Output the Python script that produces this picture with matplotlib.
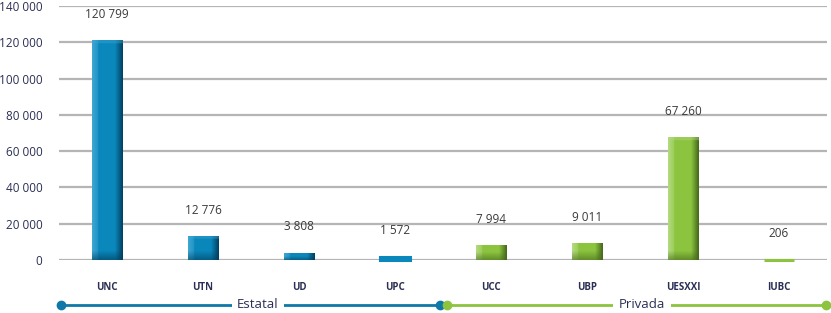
import numpy as np
import matplotlib
matplotlib.use("Agg")
import matplotlib.pyplot as plt
from matplotlib.colors import to_rgb

categories = ["UNC", "UTN", "UD", "UPC", "UCC", "UBP", "UESXXI", "IUBC"]
values = [120799, 12776, 3808, 1572, 7994, 9011, 67260, 206]
labels = ["120 799", "12 776", "3 808", "1 572", "7 994", "9 011", "67 260", "206"]
groups = ["Estatal", "Estatal", "Estatal", "Estatal", "Privada", "Privada", "Privada", "Privada"]
yticks = [0, 20000, 40000, 60000, 80000, 100000, 120000, 140000]
ytick_labels = ["0", "20 000", "40 000", "60 000", "80 000", "100 000", "120 000", "140 000"]

plt.rcParams['font.family'] = ['Open Sans', 'DejaVu Sans']

W, H = 831, 313
fig = plt.figure(figsize=(W/100, H/100), dpi=100)
ax = fig.add_axes([59/W, 53/H, 768/W, 254/H])
ax.set_xlim(-0.5, 7.5)
ax.set_ylim(0, 140000)

pal = {
    "Estatal": dict(light="#3ea6d3", main="#0a87bb", dark="#02405f"),
    "Privada": dict(light="#b4da80", main="#8cc43f", dark="#46681c"),
}

for y in yticks:
    ax.axhline(y, color="#b5b5b5", lw=1.6, zorder=0)

bw = 0.32
px_per_unit = 254/140000
for i, (v, g) in enumerate(zip(values, groups)):
    c = pal[g]
    light, main, dark = np.array(to_rgb(c["light"])), np.array(to_rgb(c["main"])), np.array(to_rgb(c["dark"]))
    hpx = v * px_per_unit
    if hpx < 4:
        ax.bar(i, v, width=bw, bottom=0, color=c["main"], edgecolor=c["main"],
               lw=2.2, zorder=3, clip_on=False)
    else:
        nx, ny = 60, 200
        xs = np.linspace(0, 1, nx)
        row = np.zeros((nx, 3))
        for k, t in enumerate(xs):
            if t < 0.2:
                col = light + (main - light) * (t / 0.2) * 0.6
            elif t < 0.75:
                col = main
            else:
                col = main + (dark - main) * ((t - 0.75) / 0.25)
            row[k] = col
        img = np.tile(row, (ny, 1, 1))
        ys = np.linspace(0, hpx, ny)
        shade_h = min(9, hpx * 0.55)
        for j in range(ny):
            d = ys[j]
            if d < shade_h:
                f = 1 - d / shade_h
                img[j] = img[j] * (1 - 0.6 * f) + dark * 0.6 * f
        if hpx > 20:
            for j in range(ny):
                if hpx - ys[j] < 2.5:
                    img[j] = img[j] * 0.6 + light * 0.4
        ax.imshow(img, extent=(i - bw/2, i + bw/2, 0, v), origin="lower",
                  aspect="auto", interpolation="bilinear", zorder=2)
    ax.annotate(labels[i], (i, v), xytext=(0, 19), textcoords="offset points",
                ha="center", va="center", fontsize=8.5, color="#3a3a3a", zorder=3)
    fig.text((59 + (i + 0.5) * 96) / W, (H - 288) / H, categories[i], ha="center",
             va="center", fontsize=7, fontweight="bold", color="#2b2f55")

ax.set_xlim(-0.5, 7.5)
ax.set_ylim(0, 140000)
ax.set_yticks(yticks)
ax.set_yticklabels(ytick_labels, fontsize=8.5, color="#2b2f55")
ax.tick_params(axis="y", length=0, pad=12)
ax.set_xticks([])
for s in ax.spines.values():
    s.set_visible(False)

# group lines
ly = (H - 305) / H
def group(x0, x1, col, name, tx):
    fig.add_artist(plt.Line2D([x0/W, x1/W], [ly, ly], color=col, lw=2, transform=fig.transFigure))
    fig.add_artist(plt.Line2D([x0/W, x1/W], [ly, ly], color=col, lw=0, marker="o",
                              markersize=6, transform=fig.transFigure))
    fig.text(tx/W, ly, name, ha="center", va="center", fontsize=9.5, color="#2b2f55",
             bbox=dict(facecolor="white", edgecolor="none", pad=4))

group(61, 440, "#0e79a8", "Estatal", 258)
group(447, 826, "#8cc43f", "Privada", 642)

fig.savefig("out.png", dpi=100, facecolor="white")
